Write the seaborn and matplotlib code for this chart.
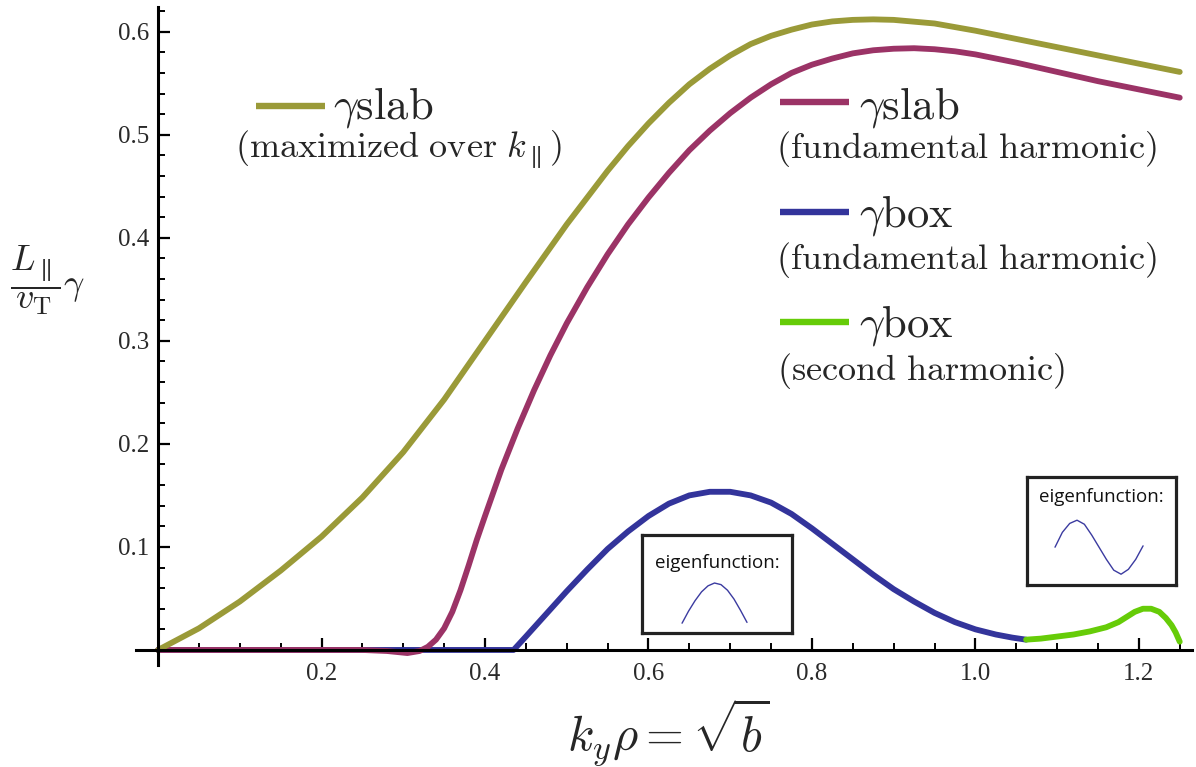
import matplotlib
matplotlib.use("Agg")
import matplotlib.pyplot as plt
from matplotlib.lines import Line2D
from matplotlib.ticker import FixedLocator, MultipleLocator, FormatStrFormatter
import seaborn as sns

# growth rates (k_y rho, L/v_T gamma)
slab_max_k = [0.00, 0.05, 0.10, 0.15, 0.20, 0.25, 0.30, 0.35, 0.40, 0.45, 0.50, 0.55,
              0.575, 0.60, 0.625, 0.65, 0.675, 0.70, 0.725, 0.75, 0.775, 0.80, 0.825,
              0.85, 0.875, 0.90, 0.95, 1.00, 1.05, 1.10, 1.15, 1.20, 1.25]
slab_max_gamma = [0.000, 0.021, 0.047, 0.077, 0.110, 0.148, 0.192, 0.243, 0.300, 0.357,
                  0.413, 0.465, 0.489, 0.511, 0.531, 0.549, 0.564, 0.577, 0.588, 0.596,
                  0.602, 0.607, 0.610, 0.6115, 0.612, 0.6115, 0.608, 0.601, 0.593, 0.585,
                  0.577, 0.569, 0.561]

slab_fund_k = [0.00, 0.25, 0.28, 0.305, 0.32, 0.33, 0.34, 0.35, 0.36, 0.37, 0.38, 0.39,
               0.40, 0.42, 0.44, 0.46, 0.48, 0.50, 0.525, 0.55, 0.575, 0.60, 0.625, 0.65,
               0.675, 0.70, 0.725, 0.75, 0.775, 0.80, 0.825, 0.85, 0.875, 0.90, 0.925,
               0.95, 0.975, 1.00, 1.05, 1.10, 1.15, 1.20, 1.25]
slab_fund_gamma = [0.000, 0.000, -0.001, -0.003, -0.001, 0.003, 0.010, 0.021, 0.037, 0.058,
                   0.082, 0.107, 0.130, 0.175, 0.215, 0.252, 0.286, 0.317, 0.352, 0.384,
                   0.413, 0.439, 0.463, 0.485, 0.504, 0.521, 0.536, 0.549, 0.560, 0.568,
                   0.574, 0.579, 0.582, 0.5835, 0.584, 0.583, 0.581, 0.578, 0.570, 0.561,
                   0.552, 0.544, 0.536]

box_fund_k = [0.00, 0.435, 0.45, 0.475, 0.50, 0.525, 0.55, 0.575, 0.60, 0.625, 0.65,
              0.675, 0.70, 0.725, 0.75, 0.775, 0.80, 0.825, 0.85, 0.875, 0.90, 0.925,
              0.95, 0.975, 1.00, 1.025, 1.045, 1.062]
box_fund_gamma = [0.000, 0.000, 0.013, 0.035, 0.057, 0.078, 0.098, 0.115, 0.130, 0.142,
                  0.150, 0.1535, 0.1535, 0.150, 0.143, 0.132, 0.118, 0.103, 0.088, 0.073,
                  0.059, 0.047, 0.036, 0.027, 0.020, 0.015, 0.012, 0.010]

box_second_k = [1.062, 1.08, 1.10, 1.12, 1.14, 1.16, 1.175, 1.185, 1.195, 1.205, 1.215,
                1.225, 1.233, 1.24, 1.245, 1.25]
box_second_gamma = [0.010, 0.011, 0.013, 0.015, 0.018, 0.022, 0.027, 0.032, 0.037, 0.040,
                    0.040, 0.037, 0.031, 0.024, 0.017, 0.008]

# eigenfunction sketches in the two insets
eig_fund_t = [0, 1, 2, 3, 4, 5, 6, 7, 8, 9, 10]
eig_fund_y = [0.0, 0.30, 0.56, 0.78, 0.93, 1.0, 0.96, 0.82, 0.60, 0.32, 0.02]
eig_second_t = [0, 1, 2, 3, 4, 5, 6, 7, 8, 9, 10, 11, 12]
eig_second_y = [0.0, 0.55, 0.88, 1.0, 0.85, 0.45, 0.0, -0.45, -0.85, -1.0, -0.82, -0.45, 0.05]

x_ticks = [0.2, 0.4, 0.6, 0.8, 1.0, 1.2]
y_ticks = [0.1, 0.2, 0.3, 0.4, 0.5, 0.6]

OLIVE = "#9a9a38"
MAGENTA = "#9b3366"
BLUE = "#33349b"
GREEN = "#66cc08"

W, H = 1196, 767


def fx(px):
    return px / W


def fy(py):
    return 1 - py / H


sns.set_theme(style="white")
plt.rcParams["font.family"] = ["Liberation Serif", "DejaVu Serif"]
plt.rcParams["mathtext.fontset"] = "cm"

fig = plt.figure(figsize=(W / 100, H / 100), dpi=100)
ax = fig.add_axes([fx(136), fy(665), (1192 - 136) / W, (665 - 7) / H])

lw = 4.2
sns.lineplot(x=box_fund_k, y=box_fund_gamma, ax=ax, color=BLUE, linewidth=lw, sort=False, estimator=None)
sns.lineplot(x=slab_fund_k, y=slab_fund_gamma, ax=ax, color=MAGENTA, linewidth=lw, sort=False, estimator=None)
sns.lineplot(x=slab_max_k, y=slab_max_gamma, ax=ax, color=OLIVE, linewidth=lw, sort=False, estimator=None)
sns.lineplot(x=box_second_k, y=box_second_gamma, ax=ax, color=GREEN, linewidth=lw, sort=False, estimator=None)

ax.set_xlim(-0.027, 1.265)
ax.set_ylim(-0.0146, 0.624)
ax.set_xlabel("")
ax.set_ylabel("")
ax.set_facecolor("none")

for side in ("top", "right"):
    ax.spines[side].set_visible(False)
for side in ("left", "bottom"):
    ax.spines[side].set_position(("data", 0))
    ax.spines[side].set_linewidth(2.2)
    ax.spines[side].set_color("black")

ax.xaxis.set_major_locator(FixedLocator(x_ticks))
ax.xaxis.set_minor_locator(MultipleLocator(0.05))
ax.yaxis.set_major_locator(FixedLocator(y_ticks))
ax.yaxis.set_minor_locator(MultipleLocator(0.02))
ax.xaxis.set_major_formatter(FormatStrFormatter("%.1f"))
ax.yaxis.set_major_formatter(FormatStrFormatter("%.1f"))
ax.tick_params(which="both", direction="in", color="black", labelcolor="#2a2a2a",
               bottom=True, left=True, top=False, right=False)
ax.tick_params(which="major", length=8.6, width=1.6, labelsize=18)
ax.tick_params(which="minor", length=4.8, width=1.4)
ax.tick_params(axis="x", which="major", pad=9.5)
ax.tick_params(axis="y", which="major", pad=6)

# axis labels
fig.text(fx(47), fy(280), r"$\dfrac{L_{\parallel}}{v_{\mathrm{T}}}\gamma$",
         fontsize=26, ha="center", va="center")
fig.text(fx(668), fy(751), r"$k_y\rho = \sqrt{b}$", fontsize=35, ha="center", va="baseline")

# hand-placed legend entries
legend_entries = [
    (OLIVE, 256, 106, 333, 119, r"$\gamma\mathrm{slab}$", 235, 158,
     r"$\mathrm{(maximized\ over\ }k_{\parallel}\mathrm{)}$"),
    (MAGENTA, 780, 102, 859, 118, r"$\gamma\mathrm{slab}$", 776, 158,
     r"$\mathrm{(fundamental\ harmonic)}$"),
    (BLUE, 780, 212, 859, 227, r"$\gamma\mathrm{box}$", 776, 269,
     r"$\mathrm{(fundamental\ harmonic)}$"),
    (GREEN, 780, 322, 859, 336, r"$\gamma\mathrm{box}$", 777, 380,
     r"$\mathrm{(second\ harmonic)}$"),
]
for color, lx, ly, tx, ty, label, sx, sy, sub in legend_entries:
    fig.add_artist(Line2D([fx(lx), fx(lx + 69)], [fy(ly), fy(ly)], transform=fig.transFigure,
                          color=color, linewidth=4.6, solid_capstyle="butt"))
    fig.text(fx(tx), fy(ty), label, fontsize=32, ha="left", va="baseline")
    fig.text(fx(sx), fy(sy), sub, fontsize=26, ha="left", va="baseline")


def eigen_box(left, top, right, bottom, t, y, curve_box, text_y):
    iax = fig.add_axes([fx(left), fy(bottom), (right - left) / W, (bottom - top) / H])
    iax.set_facecolor("white")
    iax.set_xticks([])
    iax.set_yticks([])
    for s in iax.spines.values():
        s.set_visible(True)
        s.set_linewidth(2.3)
        s.set_color("#222222")
    sns.lineplot(x=t, y=y, ax=iax, color="#3b3ba0", linewidth=1.0, sort=False, estimator=None)
    iax.set_xlabel("")
    iax.set_ylabel("")
    x0, x1, y0, y1 = curve_box
    sx = (max(t) - min(t)) / (x1 - x0)
    sy = (max(y) - min(y)) / (y1 - y0)
    iax.set_xlim(min(t) - x0 * sx, min(t) + (1 - x0) * sx)
    iax.set_ylim(min(y) - y0 * sy, min(y) + (1 - y0) * sy)
    iax.text(0.5, text_y, "eigenfunction:", transform=iax.transAxes, ha="center", va="center",
             family=["Open Sans", "DejaVu Sans"], fontsize=13.5, color="#111111")


eigen_box(642, 535, 792, 633, eig_fund_t, eig_fund_y, (0.267, 0.70, 0.10, 0.51), 0.71)
eigen_box(1027, 477, 1176, 585, eig_second_t, eig_second_y, (0.188, 0.779, 0.10, 0.60), 0.815)

fig.savefig("out.png", dpi=100)
